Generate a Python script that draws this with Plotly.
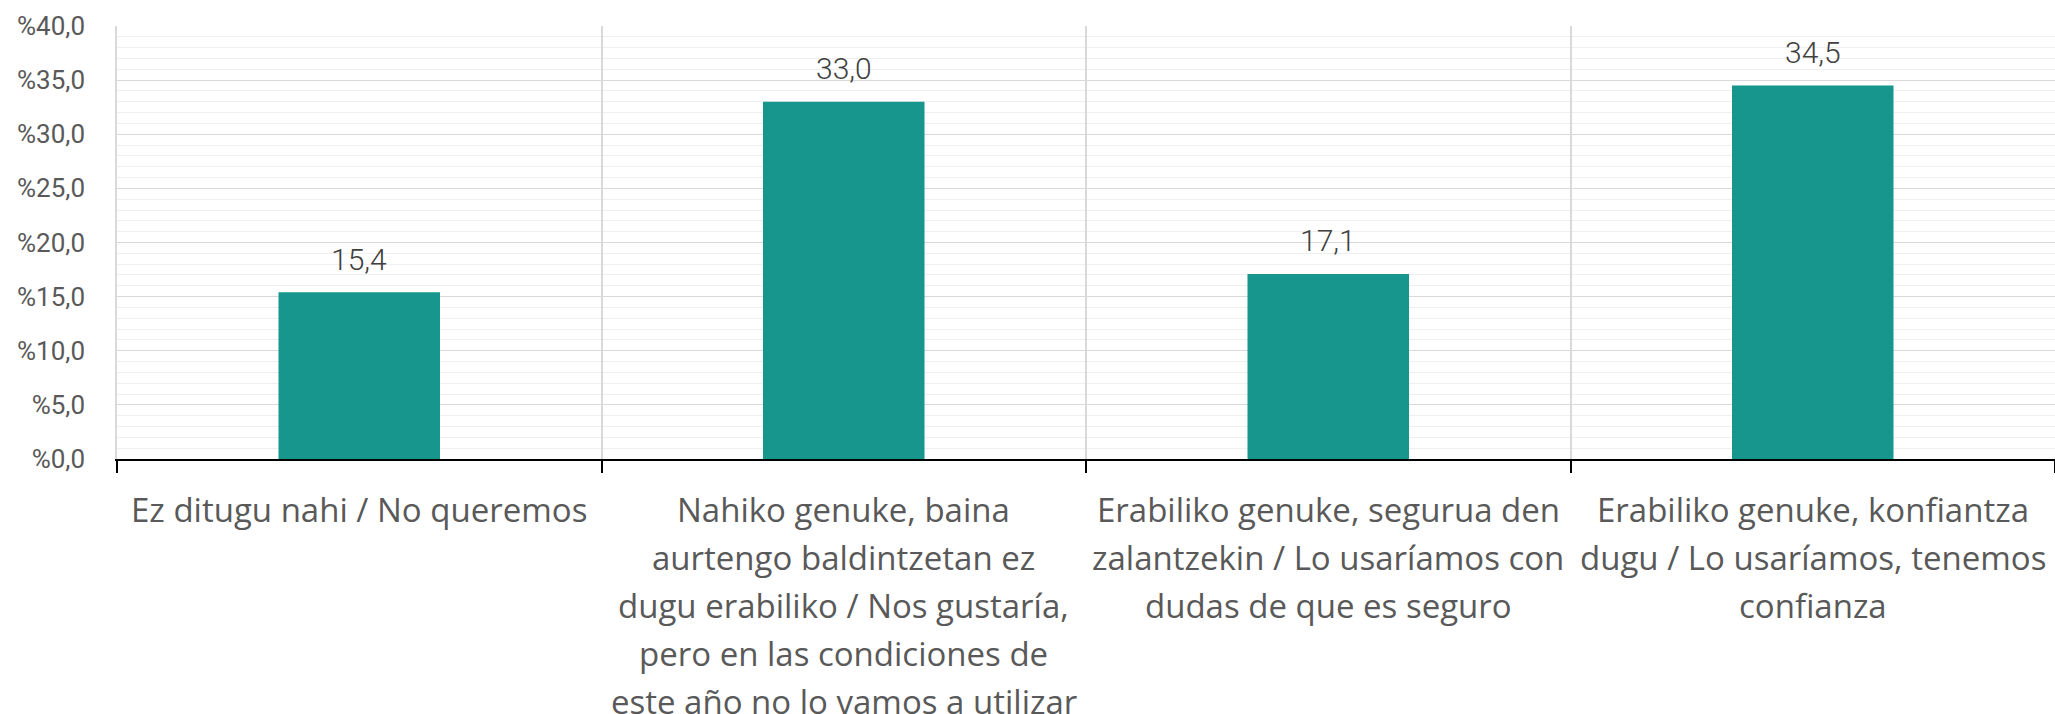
import plotly.graph_objects as go

# ---- data ----
categories = [
    "Ez ditugu nahi / No queremos",
    "Nahiko genuke, baina aurtengo baldintzetan ez dugu erabiliko / Nos gustaría, pero en las condiciones de este año no lo vamos a utilizar",
    "Erabiliko genuke, segurua den zalantzekin / Lo usaríamos con dudas de que es seguro",
    "Erabiliko genuke, konfiantza dugu / Lo usaríamos, tenemos confianza",
]
label_lines = [
    ["Ez ditugu nahi / No queremos"],
    ["Nahiko genuke, baina", "aurtengo baldintzetan ez", "dugu erabiliko / Nos gustaría,",
     "pero en las condiciones de", "este año no lo vamos a utilizar"],
    ["Erabiliko genuke, segurua den", "zalantzekin / Lo usaríamos con", "dudas de que es seguro"],
    ["Erabiliko genuke, konfiantza", "dugu / Lo usaríamos, tenemos", "confianza"],
]
values = [15.4, 33.0, 17.1, 34.5]
y_tick_values = [0, 5, 10, 15, 20, 25, 30, 35, 40]
y_tick_labels = ["%" + f"{v:.1f}".replace(".", ",") for v in y_tick_values]

BAR_COLOR = "#16968C"
LABEL_FONT = "Open Sans"
NUM_FONT = "Roboto"

fig = go.Figure()
fig.add_trace(go.Bar(
    x=categories,
    y=values,
    marker=dict(color=BAR_COLOR, line=dict(width=0)),
    hoverinfo="skip",
))

annotations = []
# value labels above bars
for c, v in zip(categories, values):
    annotations.append(dict(
        x=c, y=v, xref="x", yref="y",
        text=f"{v:.1f}".replace(".", ","),
        showarrow=False, yanchor="middle", xanchor="center",
        yshift=33,
        font=dict(family=NUM_FONT, size=30, color="#404040", weight=300),
    ))
# category labels (one annotation per line to match line spacing)
for c, lines in zip(categories, label_lines):
    for i, line in enumerate(lines):
        annotations.append(dict(
            x=c, y=0, xref="x", yref="y",
            text=line, showarrow=False,
            yanchor="middle", xanchor="center",
            yshift=-(50 + 48 * i),
            font=dict(family=LABEL_FONT, size=33, color="#595959"),
        ))

fig.update_layout(
    width=2055, height=714,
    margin=dict(l=117, r=0, t=26, b=255, pad=0),
    paper_bgcolor="white", plot_bgcolor="white",
    separators=",.",
    bargap=2 / 3,
    showlegend=False,
    annotations=annotations,
    xaxis=dict(
        type="category",
        range=[-0.5, 3.5],
        tickson="boundaries",
        showticklabels=False,
        ticks="outside", ticklen=12, tickwidth=1.5, tickcolor="#000000",
        showgrid=True, gridcolor="#d9d9d9", gridwidth=1.5,
        showline=True, linecolor="#000000", linewidth=1.5,
        zeroline=False,
    ),
    yaxis=dict(
        range=[0, 40],
        tickmode="array",
        tickvals=y_tick_values,
        ticktext=y_tick_labels,
        tickfont=dict(family=NUM_FONT, size=26, color="#595959"),
        ticks="", ticklabelstandoff=25,
        showgrid=True, gridcolor="#d9d9d9", gridwidth=1.3,
        minor=dict(dtick=1, showgrid=True, gridcolor="#efefef", gridwidth=1.2),
        showline=True, linecolor="#d9d9d9", linewidth=1.5,
        zeroline=False,
    ),
)

fig.write_html(
    "out.html",
    config={"displayModeBar": False},
    post_script="document.body.style.margin='0';document.body.style.overflow='hidden';",
)
